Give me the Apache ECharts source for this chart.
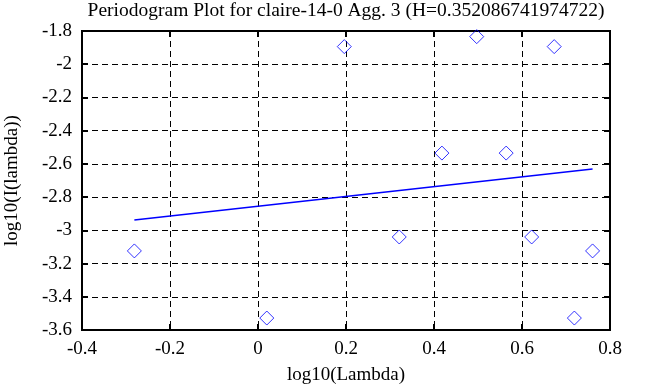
<!DOCTYPE html>
<html><head><meta charset="utf-8">
<script src="https://cdn.jsdelivr.net/npm/echarts@6/dist/echarts.min.js"></script>
<style>html,body{margin:0;padding:0;background:#fff}#c{width:658px;height:387px}</style>
</head><body><div id="c"></div>
<script>
const titleText = 'Periodogram Plot for claire-14-0 Agg. 3 (H=0.352086741974722)';
const xName = 'log10(Lambda)';
const yName = 'log10(I(lambda))';
const logLambda = [-0.2810, 0.0200, 0.1961, 0.3210, 0.4180, 0.4971, 0.5640, 0.6220, 0.6732, 0.7190, 0.7604];
const logI = [-3.124, -3.528, -1.894, -3.040, -2.535, -1.834, -2.535, -3.040, -1.894, -3.528, -3.124];
const fitX = [-0.2810, 0.7604];
const fitY = [-2.938, -2.631];
const xRange = [-0.4, 0.8, 0.2];
const yRange = [-3.6, -1.8, 0.2];

const FONT = 'Liberation Serif';
const FS = 19;
const chart = echarts.init(document.getElementById('c'));
const fmt = v => String(Math.round(v * 10) / 10);
const split = {show: true, lineStyle: {color: '#000', width: 1, type: [6, 4]}};
const tick = {show: true, inside: true, length: 6, lineStyle: {color: '#000', width: 2}};
chart.setOption({
  animation: false,
  backgroundColor: '#fff',
  title: {text: titleText, left: 346, textAlign: 'center', top: 1, padding: 0,
    textStyle: {fontFamily: FONT, fontSize: 19.5, fontWeight: 'normal', color: '#000'}},
  grid: {left: 82, right: 48, top: 31, bottom: 57, outerBoundsMode: 'none', containLabel: false,
    show: true, borderColor: '#000', borderWidth: 2, backgroundColor: 'transparent'},
  xAxis: [{
    type: 'value', min: xRange[0], max: xRange[1], interval: xRange[2],
    name: xName, nameLocation: 'middle', nameGap: 36,
    nameTextStyle: {fontFamily: FONT, fontSize: FS, color: '#000'},
    axisLine: {show: false, onZero: false},
    axisTick: tick,
    axisLabel: {fontFamily: FONT, fontSize: FS, color: '#000', margin: 10, formatter: fmt},
    splitLine: split
  }, {
    type: 'value', position: 'top', min: xRange[0], max: xRange[1], interval: xRange[2],
    axisLine: {show: false, onZero: false}, axisLabel: {show: false}, splitLine: {show: false},
    axisTick: tick
  }],
  yAxis: [{
    type: 'value', min: yRange[0], max: yRange[1], interval: yRange[2],
    name: yName, nameLocation: 'middle', nameGap: 60, nameRotate: 90,
    nameTextStyle: {fontFamily: FONT, fontSize: FS, color: '#000'},
    axisLine: {show: false, onZero: false},
    axisTick: tick,
    axisLabel: {fontFamily: FONT, fontSize: FS, color: '#000', margin: 10, formatter: fmt},
    splitLine: split
  }, {
    type: 'value', position: 'right', min: yRange[0], max: yRange[1], interval: yRange[2],
    axisLine: {show: false, onZero: false}, axisLabel: {show: false}, splitLine: {show: false},
    axisTick: tick
  }],
  series: [{
    type: 'scatter', symbol: 'diamond', symbolSize: 14,
    data: logLambda.map((x, i) => [x, logI[i]]),
    itemStyle: {color: 'transparent', borderColor: '#0000ff', borderWidth: 1}
  }, {
    type: 'line', symbol: 'none',
    data: fitX.map((x, i) => [x, fitY[i]]),
    lineStyle: {color: '#0000ff', width: 1.5}
  }]
});
</script></body></html>
